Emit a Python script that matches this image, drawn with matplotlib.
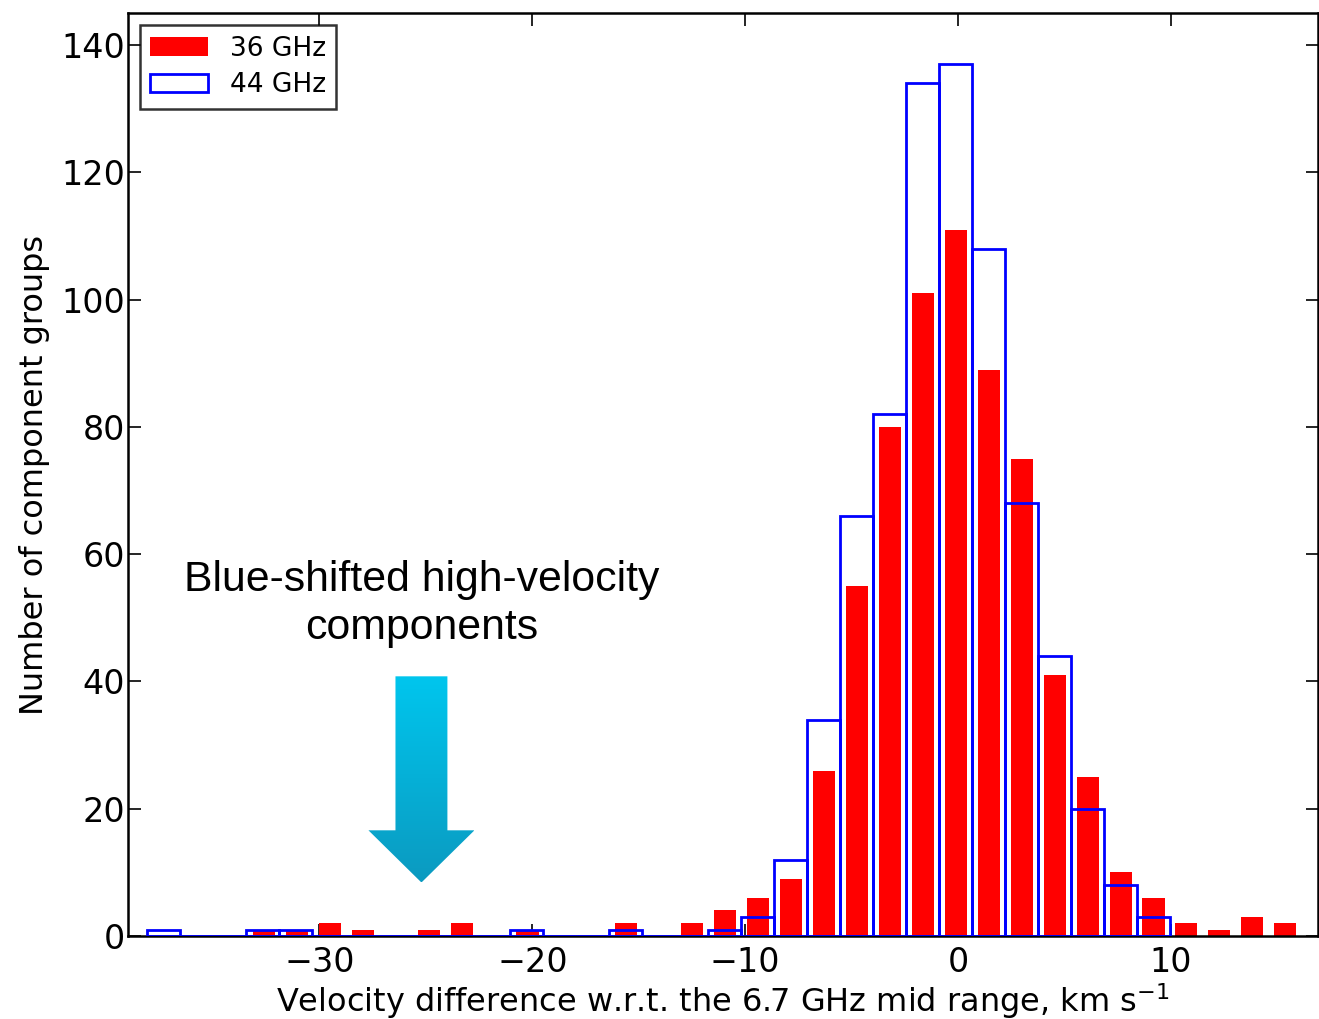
import matplotlib

matplotlib.use("Agg")

import matplotlib.pyplot as plt
import numpy as np
from matplotlib.patches import Polygon

# 36 GHz: bin centres (km/s) and counts
RED_CENTERS = -32.61 + 1.548 * np.arange(32)
RED_COUNTS = [1, 1, 2, 1, 0, 1, 2, 0, 1, 0, 0, 2, 0, 2, 4, 6,
              9, 26, 55, 80, 101, 111, 89, 75, 41, 25, 10, 6, 2, 1, 3, 2]

# 44 GHz: bin edges (km/s) and counts
BLUE_EDGES = np.linspace(-38.12, 9.95, 32)
BLUE_COUNTS = [1, 0, 0, 1, 1, 0, 0, 0, 0, 0, 0, 1, 0, 0, 1, 0,
               0, 1, 3, 12, 34, 66, 82, 134, 137, 108, 68, 44, 20, 8, 3]

XLABEL = r"Velocity difference w.r.t. the 6.7 GHz mid range, km s$^{-1}$"
YLABEL = "Number of component groups"
NOTE = "Blue-shifted high-velocity\ncomponents"

fig = plt.figure(figsize=(13.19, 10.19), dpi=100)
ax = fig.add_axes([0.097, 0.0815, 0.902, 0.9055])

red_step = RED_CENTERS[1] - RED_CENTERS[0]
ax.bar(RED_CENTERS, RED_COUNTS, width=red_step * 0.67, color="#ff0000",
       edgecolor="none", label="36 GHz", zorder=2)

blue_centers = 0.5 * (BLUE_EDGES[:-1] + BLUE_EDGES[1:])
blue_width = np.diff(BLUE_EDGES)
ax.bar(blue_centers, BLUE_COUNTS, width=blue_width, fill=False,
       edgecolor="#0000ff", linewidth=2, label="44 GHz", zorder=3)

ax.set_xticks([-30, -20, -10, 0, 10])
ax.set_yticks(range(0, 141, 20))
ax.set_xticklabels(["\u221230", "\u221220", "\u221210", "0", "10"])
ax.tick_params(direction="in", length=9, width=1.2, labelsize=24,
               top=True, right=True, pad=7)
ax.tick_params(axis="y", pad=2)
for sp in ax.spines.values():
    sp.set_linewidth(1.8)

ax.set_xlabel(XLABEL, fontsize=23, labelpad=2)
ax.set_ylabel(YLABEL, fontsize=23, labelpad=8)

leg = ax.legend(loc="upper left", fontsize=19, frameon=True, fancybox=False,
                borderaxespad=0.45, handlelength=2.2, handletextpad=0.8,
                borderpad=0.4, labelspacing=0.4)
leg.get_frame().set_edgecolor("black")
leg.get_frame().set_linewidth(1.8)

# annotation text
ax.text(-25.2, 52.2, NOTE, ha="center", va="center", fontsize=30.8,
        family="Liberation Sans", linespacing=1.25)

# gradient arrow pointing down at the high-velocity tail
arrow_pts = [(-26.43, 40.8), (-23.99, 40.8), (-23.99, 16.6), (-22.72, 16.6),
             (-25.21, 8.4), (-27.70, 16.6), (-26.43, 16.6)]
arrow = Polygon(arrow_pts, closed=True, facecolor="none", edgecolor="none")
ax.add_patch(arrow)
grad = np.linspace(0, 1, 256).reshape(-1, 1)
cmap = matplotlib.colors.LinearSegmentedColormap.from_list(
    "arr", ["#00c6ee", "#0b9ac0"])
img = ax.imshow(grad, cmap=cmap, extent=(-27.70, -22.72, 8.4, 40.8),
                aspect="auto", origin="upper", zorder=4)
img.set_clip_path(arrow)
ax.set_xlim(-39, 16.9)
ax.set_ylim(0, 145)

fig.savefig("out.png", dpi=100)
